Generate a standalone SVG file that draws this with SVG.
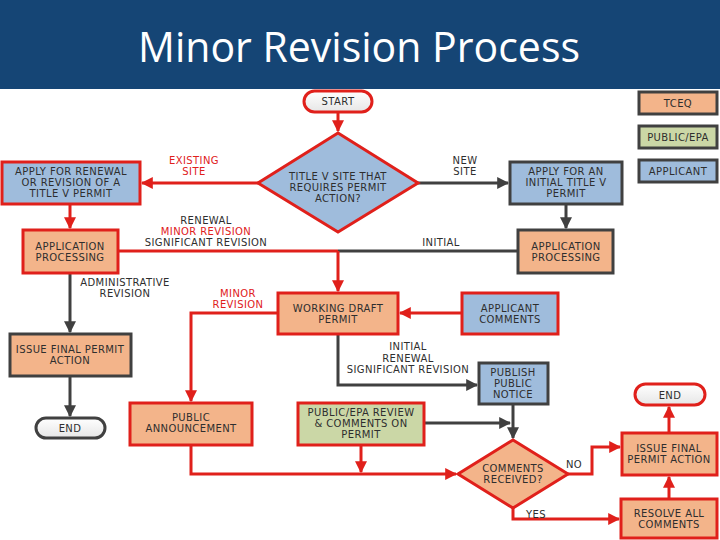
<svg xmlns="http://www.w3.org/2000/svg" width="720" height="540" viewBox="0 0 720 540">
<defs>
<style>
.t{font-family:"DejaVu Sans",Verdana,sans-serif;font-size:10px;letter-spacing:0.4px;fill:#2e2e2e;text-anchor:middle}
.lr{fill:#e0201b}
.red{stroke:#e0201b;stroke-width:3}
.dk{stroke:#404040;stroke-width:3}
.or{fill:#f3b48a}
.bl{fill:#9fbcdc}
.gr{fill:#cbd7a6}
.pill{fill:url(#pg)}
.cr{fill:none;stroke:#e0201b;stroke-width:3}
.cd{fill:none;stroke:#404040;stroke-width:3}
</style>
<linearGradient id="pg" x1="0" y1="0" x2="0" y2="1"><stop offset="0" stop-color="#ffffff"/><stop offset="1" stop-color="#e6e6e6"/></linearGradient>
<marker id="ar" viewBox="0 0 10 10" refX="9" refY="5" markerWidth="4" markerHeight="4" orient="auto" markerUnits="strokeWidth"><path d="M0,0 L10,5 L0,10 z" fill="#e0201b"/></marker>
<marker id="ad" viewBox="0 0 10 10" refX="9" refY="5" markerWidth="4" markerHeight="4" orient="auto" markerUnits="strokeWidth"><path d="M0,0 L10,5 L0,10 z" fill="#404040"/></marker>
</defs>
<rect x="0" y="0" width="720" height="540" fill="#ffffff"/>
<g id="header">
<rect x="0" y="0" width="720" height="89" fill="#154575"/>
<text x="359" y="62" font-family="'Open Sans','DejaVu Sans',sans-serif" font-size="42" fill="#ffffff" text-anchor="middle" textLength="442" lengthAdjust="spacingAndGlyphs">Minor Revision Process</text>
</g>
<g id="connectors">
<path class="cr" d="M338,112 V131" marker-end="url(#ar)"/>
<path class="cr" d="M258,183 H142" marker-end="url(#ar)"/>
<path class="cd" d="M418,183 H508" marker-end="url(#ad)"/>
<path class="cr" d="M70,204 V228" marker-end="url(#ar)"/>
<path class="cd" d="M566,204 V228" marker-end="url(#ad)"/>
<path class="cr" d="M118,251 H338"/>
<path class="cd" d="M338,251 H518"/>
<path class="cr" d="M338,251 V291" marker-end="url(#ar)"/>
<path class="cd" d="M70,273 V332" marker-end="url(#ad)"/>
<path class="cd" d="M70,376 V416" marker-end="url(#ad)"/>
<path class="cr" d="M278,313 H191 V401" marker-end="url(#ar)"/>
<path class="cr" d="M462,313 H400" marker-end="url(#ar)"/>
<path class="cd" d="M338,334 V385 H477" marker-end="url(#ad)"/>
<path class="cd" d="M513,404 V438" marker-end="url(#ad)"/>
<path class="cd" d="M424,423 H510" marker-end="url(#ad)"/>
<path class="cr" d="M191,445 V474 H456" marker-end="url(#ar)"/>
<path class="cr" d="M361,445 V472" marker-end="url(#ar)"/>
<path class="cr" d="M568,474 H592 V447 H620" marker-end="url(#ar)"/>
<path class="cr" d="M669,433 V407" marker-end="url(#ar)"/>
<path class="cr" d="M513,508 V519 H619" marker-end="url(#ar)"/>
<path class="cr" d="M669,499 V477" marker-end="url(#ar)"/>
</g>
<g id="labels">
<text class="t lr" x="194" y="164">EXISTING</text>
<text class="t lr" x="194" y="175">SITE</text>
<text class="t" x="465" y="164">NEW</text>
<text class="t" x="465" y="175">SITE</text>
<text class="t" x="206" y="224">RENEWAL</text>
<text class="t lr" x="206" y="235">MINOR REVISION</text>
<text class="t" x="206" y="246">SIGNIFICANT REVISION</text>
<text class="t" x="441" y="246">INITIAL</text>
<text class="t" x="125" y="286">ADMINISTRATIVE</text>
<text class="t" x="125" y="297">REVISION</text>
<text class="t lr" x="238" y="297">MINOR</text>
<text class="t lr" x="238" y="308">REVISION</text>
<text class="t" x="408" y="350">INITIAL</text>
<text class="t" x="408" y="362">RENEWAL</text>
<text class="t" x="408" y="373">SIGNIFICANT REVISION</text>
<text class="t" x="574" y="468">NO</text>
<text class="t" x="536" y="518">YES</text>
</g>
<g id="start"><rect class="pill red" x="304" y="91" width="68" height="21" rx="10.5"/><text class="t" x="338" y="105">START</text></g>
<g id="decision1"><polygon class="bl red" points="338,133 418,183 338,232 258,183"/><text class="t" x="338" y="180">TITLE V SITE THAT</text><text class="t" x="338" y="191">REQUIRES PERMIT</text><text class="t" x="338" y="202">ACTION?</text></g>
<g id="apply-renewal"><rect class="bl red" x="2" y="162" width="138" height="42"/><text class="t" x="71" y="175">APPLY FOR RENEWAL</text><text class="t" x="71" y="186">OR REVISION OF A</text><text class="t" x="71" y="197">TITLE V PERMIT</text></g>
<g id="apply-initial"><rect class="bl dk" x="510" y="162" width="112" height="42"/><text class="t" x="566" y="175">APPLY FOR AN</text><text class="t" x="566" y="186">INITIAL TITLE V</text><text class="t" x="566" y="197">PERMIT</text></g>
<g id="legend-tceq"><rect class="or dk" x="639" y="92" width="78" height="22"/><text class="t" x="678" y="107">TCEQ</text></g>
<g id="legend-public"><rect class="gr dk" x="639" y="126" width="78" height="22"/><text class="t" x="678" y="141">PUBLIC/EPA</text></g>
<g id="legend-applicant"><rect class="bl dk" x="639" y="160" width="78" height="22"/><text class="t" x="678" y="175">APPLICANT</text></g>
<g id="app-proc-left"><rect class="or red" x="23" y="230" width="95" height="43"/><text class="t" x="70" y="250">APPLICATION</text><text class="t" x="70" y="261">PROCESSING</text></g>
<g id="app-proc-right"><rect class="or dk" x="518" y="230" width="95" height="43"/><text class="t" x="566" y="250">APPLICATION</text><text class="t" x="566" y="261">PROCESSING</text></g>
<g id="issue-left"><rect class="or dk" x="10" y="334" width="121" height="42"/><text class="t" x="70" y="353">ISSUE FINAL PERMIT</text><text class="t" x="70" y="364">ACTION</text></g>
<g id="end-left"><rect class="pill dk" x="36" y="418" width="69" height="20" rx="10"/><text class="t" x="70" y="432">END</text></g>
<g id="working-draft"><rect class="or red" x="278" y="293" width="120" height="41"/><text class="t" x="338" y="312">WORKING DRAFT</text><text class="t" x="338" y="323">PERMIT</text></g>
<g id="applicant-comments"><rect class="bl red" x="462" y="293" width="96" height="41"/><text class="t" x="510" y="312">APPLICANT</text><text class="t" x="510" y="323">COMMENTS</text></g>
<g id="publish-notice"><rect class="bl dk" x="479" y="363" width="69" height="41"/><text class="t" x="513" y="376">PUBLISH</text><text class="t" x="513" y="387">PUBLIC</text><text class="t" x="513" y="398">NOTICE</text></g>
<g id="public-announcement"><rect class="or red" x="130" y="403" width="122" height="42"/><text class="t" x="191" y="421">PUBLIC</text><text class="t" x="191" y="432">ANNOUNCEMENT</text></g>
<g id="public-review"><rect class="gr red" x="298" y="403" width="126" height="42"/><text class="t" x="361" y="416">PUBLIC/EPA REVIEW</text><text class="t" x="361" y="427">&amp; COMMENTS ON</text><text class="t" x="361" y="438">PERMIT</text></g>
<g id="decision2"><polygon class="or red" points="513,440 568,474 513,508 458,474"/><text class="t" x="513" y="472">COMMENTS</text><text class="t" x="513" y="483">RECEIVED?</text></g>
<g id="issue-right"><rect class="or red" x="622" y="433" width="95" height="42"/><text class="t" x="669" y="452">ISSUE FINAL</text><text class="t" x="669" y="463">PERMIT ACTION</text></g>
<g id="end-right"><rect class="pill red" x="635" y="384" width="70" height="21" rx="10.5"/><text class="t" x="670" y="399">END</text></g>
<g id="resolve"><rect class="or red" x="621" y="499" width="96" height="39"/><text class="t" x="669" y="517">RESOLVE ALL</text><text class="t" x="669" y="528">COMMENTS</text></g>
</svg>
